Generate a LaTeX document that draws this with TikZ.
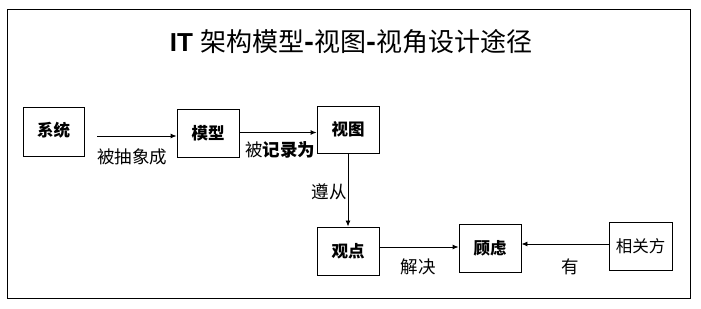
\documentclass[tikz,border=0pt]{standalone}
\usepackage{fontspec}
\setmainfont{Liberation Sans}
\newfontfamily\cjk{Noto Sans CJK SC}
\usetikzlibrary{arrows.meta}
\begin{document}
\begin{tikzpicture}[x=1pt,y=1pt,
  box/.style={draw,line width=0.9pt,minimum width=62pt,minimum height=48pt,inner sep=0pt,font=\cjk\fontsize{16.5}{18}\selectfont},
  lbl/.style={inner sep=0pt,font=\cjk\fontsize{17.5}{19}\selectfont},
  conn/.style={line width=0.9pt,-{Latex[length=6pt,width=5pt]}}]
\useasboundingbox (0,0) rectangle (701,308);
\node[draw,line width=1pt,minimum width=683pt,minimum height=288pt,inner sep=0pt] (frame) at (348.5,154) {};
\node[inner sep=0pt] (title) at (351,266) {\fontsize{26}{28}\selectfont\textbf{IT} \cjk 架构模型\textbf{-}视图\textbf{-}视角设计途径};
\node[box,minimum width=61pt,minimum height=49pt] (sys) at (53.5,176.5) {\raisebox{4pt}{\bfseries 系统}};
\node[box] (mod) at (208,175) {\bfseries 模型};
\node[box,minimum height=47pt] (view) at (348,178.5) {\bfseries 视图};
\node[box] (obs) at (348,57) {\bfseries 观点};
\node[box] (con) at (490,60) {\bfseries 顾虑};
\node[box,minimum width=63pt] (stake) at (640.5,62) {相关方};
\draw[conn,shorten <=13pt] ([yshift=-4.5pt]sys.east) -- ([yshift=-4.5pt]sys.east -| mod.west);
\draw[conn] ([yshift=0.5pt]mod.east) -- ([yshift=0.5pt]mod.east -| view.west);
\draw[conn] (view.south) -- (obs.north);
\draw[conn] ([yshift=4pt]obs.east) -- ([yshift=4pt]obs.east -| con.west);
\draw[conn] ([yshift=2pt]stake.west) -- ([yshift=2pt]stake.west -| con.east);
\node[lbl] (l1) at (132,151) {被抽象成};
\node[lbl] (l2) at (280,158) {被\bfseries 记录为};
\node[lbl] (l3) at (329,116) {遵从};
\node[lbl] (l4) at (418,41) {解决};
\node[lbl] (l5) at (570,41) {有};
\end{tikzpicture}
\end{document}
